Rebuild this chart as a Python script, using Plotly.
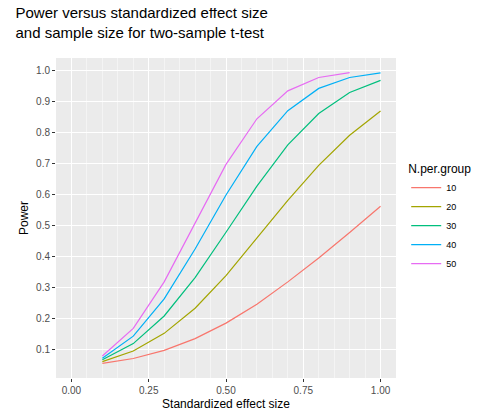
import plotly.graph_objects as go

effect = [0.1,0.2,0.3,0.4,0.5,0.6,0.7,0.8,0.9,1.0]
groups = ["10","20","30","40","50"]
p10 = [0.055,0.071,0.097,0.135,0.185,0.246,0.318,0.395,0.477,0.562]
p20 = [0.061,0.095,0.152,0.233,0.338,0.458,0.581,0.694,0.791,0.869]
p30 = [0.067,0.119,0.208,0.332,0.478,0.627,0.760,0.861,0.929,0.968]
p40 = [0.072,0.143,0.263,0.424,0.598,0.755,0.870,0.942,0.977,0.992]
p50 = [0.079,0.168,0.318,0.508,0.697,0.844,0.934,0.977,0.993]
series = [p10,p20,p30,p40,p50]
colors = ["#F8766D","#A3A500","#00BF7D","#00B0F6","#E76BF3"]

fig = go.Figure()
for g, s, c in zip(groups, series, colors):
    fig.add_trace(go.Scatter(x=effect[:len(s)], y=s, mode="lines", name=g,
                             line=dict(color=c, width=1.2)))

ax = dict(showgrid=True, gridcolor="white", gridwidth=1.1, zeroline=False,
          ticks="outside", ticklen=3, tickcolor="#333", tickfont=dict(size=10, color="#4d4d4d"),
          minor=dict(showgrid=True, gridcolor="#f4f4f4", gridwidth=0.6))
fig.update_layout(
    width=500, height=417, plot_bgcolor="#EBEBEB", paper_bgcolor="white",
    font=dict(family="Liberation Sans, Arial", color="black"),
    margin=dict(l=48, r=112, t=50, b=47),
    title=dict(text="Power versus standardized effect size<br>and sample size for two-sample t-test",
               x=0.015, xanchor="left", yref="container", y=0.975, yanchor="top",
               font=dict(size=15)),
    xaxis=dict(ax, range=[-0.05,1.05], tickvals=[0,0.25,0.5,0.75,1.0],
               ticktext=["0.00","0.25","0.50","0.75","1.00"],
               title=dict(text="Standardized effect size", font=dict(size=12), standoff=4)),
    yaxis=dict(ax, range=[0.008,1.04], tickvals=[0.1,0.2,0.3,0.4,0.5,0.6,0.7,0.8,0.9,1.0],
               ticktext=["0.1","0.2","0.3","0.4","0.5","0.6","0.7","0.8","0.9","1.0"],
               minor=dict(showgrid=False),
               title=dict(text="Power", font=dict(size=12), standoff=4)),
    legend=dict(title=dict(text="N.per.group", font=dict(size=12)), x=1.03, y=0.5,
                yanchor="middle", font=dict(size=9), bgcolor="white", tracegroupgap=0),
)
fig.write_html("out.html")
